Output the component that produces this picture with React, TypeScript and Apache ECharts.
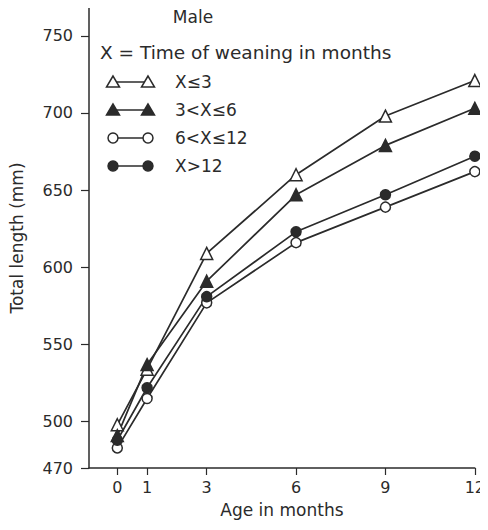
import React, { useEffect, useRef } from "react";
import * as echarts from "echarts";

const ages = [0, 1, 3, 6, 9, 12];
const xTicks = [0, 1, 3, 6, 9, 12];
const yTicks = [470, 500, 550, 600, 650, 700, 750];

const seriesNames = ["X≤3", "3<X≤6", "6<X≤12", "X>12"];
const upTo3 = [498, 534, 609, 660, 698, 721];
const from3to6 = [491, 537, 591, 647, 679, 703];
const from6to12 = [483, 515, 577, 616, 639, 662];
const over12 = [488, 522, 581, 623, 647, 672];

const INK = "#2b2b2b";
const FONT = "DejaVu Sans";

function pairs(vals: number[]) {
  return ages.map((a, i) => [a, vals[i]]);
}

export default function App() {
  const ref = useRef<HTMLDivElement>(null);
  useEffect(() => {
    if (!ref.current) return;
    const chart = echarts.init(ref.current, null, { renderer: "svg" });

    const styles = [
      { symbol: "triangle", size: 12, fill: "#ffffff" },
      { symbol: "triangle", size: 12, fill: INK },
      { symbol: "circle", size: 10, fill: "#ffffff" },
      { symbol: "circle", size: 10, fill: INK },
    ];
    const datasets = [upTo3, from3to6, from6to12, over12];

    const series = datasets.map((d, i) => ({
      type: "line",
      name: seriesNames[i],
      data: pairs(d),
      symbol: styles[i].symbol,
      symbolSize: styles[i].size,
      lineStyle: { color: INK, width: 1.7 },
      itemStyle: { color: styles[i].fill, borderColor: INK, borderWidth: 1.5 },
      z: 3,
    }));

    const rowsY = [82, 110, 138, 166];
    const x1 = 113;
    const x2 = 148;
    const legendEls: any[] = [];
    rowsY.forEach((y, i) => {
      legendEls.push({
        type: "line",
        shape: { x1, y1: y, x2, y2: y },
        style: { stroke: INK, lineWidth: 1.7 },
        z: 10,
      });
      [x1, x2].forEach((cx) => {
        if (styles[i].symbol === "triangle") {
          legendEls.push({
            type: "polygon",
            shape: {
              points: [
                [cx, y - 6],
                [cx - 6.5, y + 5],
                [cx + 6.5, y + 5],
              ],
            },
            style: { fill: styles[i].fill, stroke: INK, lineWidth: 1.5 },
            z: 11,
          });
        } else {
          legendEls.push({
            type: "circle",
            shape: { cx, cy: y, r: 5 },
            style: { fill: styles[i].fill, stroke: INK, lineWidth: 1.5 },
            z: 11,
          });
        }
      });
      legendEls.push({
        type: "text",
        x: 175,
        y,
        style: {
          text: seriesNames[i],
          fill: INK,
          font: `17px '${FONT}'`,
          textVerticalAlign: "middle",
          textAlign: "left",
        },
        z: 11,
      });
    });

    chart.setOption({
      animation: false,
      backgroundColor: "#ffffff",
      grid: { left: 85, right: 10, top: 8, bottom: 62, containLabel: false },
      xAxis: {
        type: "value",
        min: -0.95,
        max: 12,
        name: "Age in months",
        nameLocation: "middle",
        nameGap: 33,
        nameTextStyle: { color: INK, fontSize: 17, fontFamily: FONT },
        axisLine: { show: true, onZero: false, lineStyle: { color: INK, width: 1.5 } },
        axisTick: { show: true, length: 7, customValues: xTicks, lineStyle: { color: INK, width: 1.2 } },
        axisLabel: { customValues: xTicks, color: INK, fontSize: 16, fontFamily: FONT, margin: 11 },
        splitLine: { show: false },
      },
      yAxis: {
        type: "value",
        min: 470,
        max: 768,
        name: "Total length (mm)",
        nameLocation: "middle",
        nameGap: 64,
        nameRotate: 90,
        nameTextStyle: { color: INK, fontSize: 17, fontFamily: FONT },
        axisLine: { show: true, onZero: false, lineStyle: { color: INK, width: 1.5 } },
        axisTick: { show: true, length: 8, customValues: yTicks, lineStyle: { color: INK, width: 1.2 } },
        axisLabel: { customValues: yTicks, color: INK, fontSize: 16, fontFamily: FONT, margin: 16 },
        splitLine: { show: false },
      },
      graphic: [
        {
          type: "text",
          x: 193,
          y: 17,
          style: {
            text: "Male",
            fill: INK,
            font: `17px '${FONT}'`,
            textAlign: "center",
            textVerticalAlign: "middle",
          },
        },
        {
          type: "text",
          x: 100,
          y: 52,
          style: {
            text: "X = Time of weaning in months",
            fill: INK,
            font: `18.5px '${FONT}'`,
            textAlign: "left",
            textVerticalAlign: "middle",
          },
        },
        ...legendEls,
      ],
      series,
    });
    return () => chart.dispose();
  }, []);
  return <div ref={ref} style={{ width: 488, height: 530, margin: -8 }} />;
}
